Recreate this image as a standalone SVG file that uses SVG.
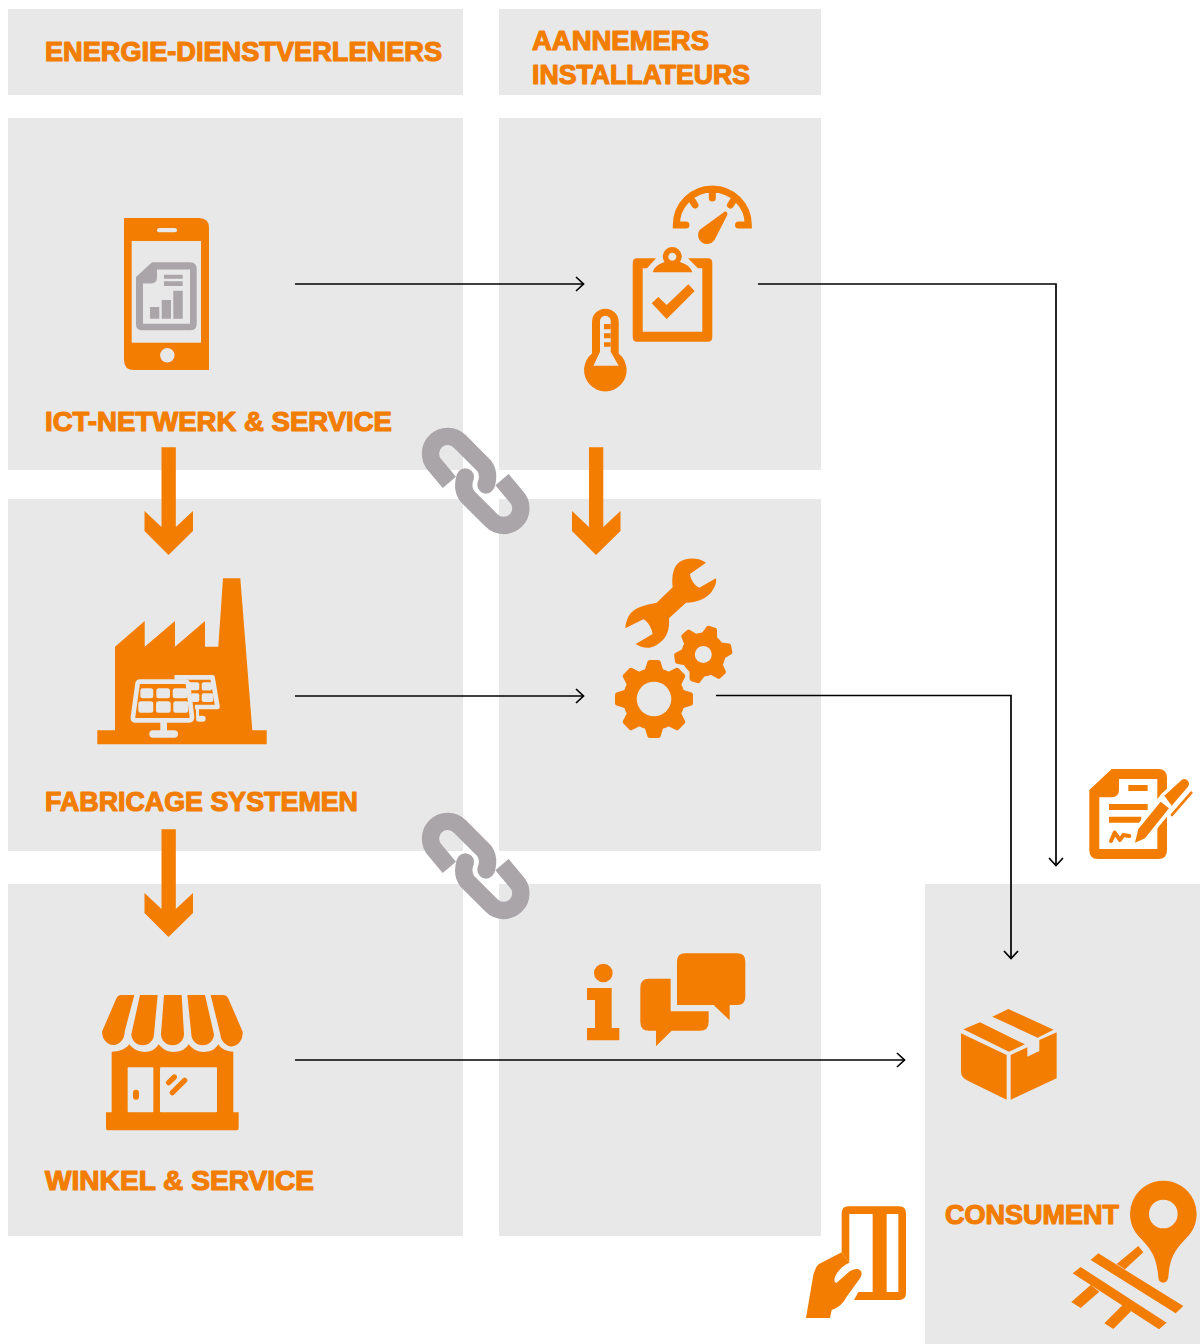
<svg xmlns="http://www.w3.org/2000/svg" xmlns:xlink="http://www.w3.org/1999/xlink" width="1200" height="1344" viewBox="0 0 1200 1344">
<style>
.p{fill:#e8e8e8}
.o{fill:#f27d00}
.g{fill:#aaa5a8}
.b{fill:#e8e8e8}
.w{fill:#fff}
.t{font-family:"Liberation Sans",Arial,sans-serif;font-weight:700;font-size:27px;fill:#f27d00;stroke:#f27d00;stroke-width:1.200px;stroke-linejoin:round}
.c{fill:none;stroke:#000;stroke-width:1.700}
.ln{fill:none;stroke:#aaa5a8;stroke-width:52}
</style>
<defs>
<marker id="a" markerUnits="userSpaceOnUse" markerWidth="12" markerHeight="18" refX="9" refY="8" orient="auto"><path d="M1 1L8.500 8L1 15" fill="none" stroke="#000" stroke-width="1.700"/></marker>
<path id="bigarrow" class="o" d="M589 447.300H603.300V527L620.500 511V531L596 555L572 531V511L589 527Z"/>
<g id="link" transform="translate(410,415) scale(.3333)">
<path class="ln" d="M118 202L76 152A50 50 0 0 1 150 80L222 152Q240 175 228 212"/>
<circle class="g" cx="228" cy="210" r="26"/>
<path class="ln" d="M276 194L318 244A50 50 0 0 1 244 316L172 244Q154 221 166 184"/>
<circle class="g" cx="166" cy="186" r="26"/>
</g>
<path id="t1" class="o" d="M-9.500-28L-6.500-37.500Q-6-39-4-39H4Q6-39 6.500-37.500L9.500-28Z"/>
<path id="t2" class="o" d="M-8-20L-5.500-27.500Q-5-29-3-29H3Q5-29 5.500-27.500L8-20Z"/>
</defs>
<g id="panels">
<rect class="p" x="8" y="9" width="455" height="86"/>
<rect class="p" x="499" y="9" width="322" height="86"/>
<rect class="p" x="8" y="118" width="455" height="352"/>
<rect class="p" x="499" y="118" width="322" height="352"/>
<rect class="p" x="8" y="499" width="455" height="352"/>
<rect class="p" x="499" y="499" width="322" height="352"/>
<rect class="p" x="8" y="884" width="455" height="352"/>
<rect class="p" x="499" y="884" width="322" height="352"/>
<rect class="p" x="925" y="884" width="275" height="460"/>
</g>
<g id="labels">
<text class="t" x="45" y="61" textLength="397" lengthAdjust="spacingAndGlyphs">ENERGIE-DIENSTVERLENERS</text>
<text class="t" x="532" y="50" textLength="177" lengthAdjust="spacingAndGlyphs">AANNEMERS</text>
<text class="t" x="532" y="84" textLength="218" lengthAdjust="spacingAndGlyphs">INSTALLATEURS</text>
<text class="t" x="45" y="431" textLength="347" lengthAdjust="spacingAndGlyphs">ICT-NETWERK &amp; SERVICE</text>
<text class="t" x="45" y="811" textLength="313" lengthAdjust="spacingAndGlyphs">FABRICAGE SYSTEMEN</text>
<text class="t" x="45" y="1190" textLength="269" lengthAdjust="spacingAndGlyphs">WINKEL &amp; SERVICE</text>
<text class="t" x="945" y="1224" textLength="174" lengthAdjust="spacingAndGlyphs">CONSUMENT</text>
</g>
<g id="connectors">
<path class="c" marker-end="url(#a)" d="M295 284H584"/>
<path class="c" marker-end="url(#a)" d="M758 284H1056V866"/>
<path class="c" marker-end="url(#a)" d="M295 696H584"/>
<path class="c" marker-end="url(#a)" d="M716 695.500H1011V959"/>
<path class="c" marker-end="url(#a)" d="M295 1060H905"/>
<use xlink:href="#bigarrow" href="#bigarrow"/>
<use xlink:href="#bigarrow" href="#bigarrow" transform="translate(-427.500,0)"/>
<use xlink:href="#bigarrow" href="#bigarrow" transform="translate(-427.500,382)"/>
</g>
<g id="link1"><use xlink:href="#link" href="#link"/></g>
<g id="link2"><use xlink:href="#link" href="#link" transform="translate(0,385)"/></g>
<g id="phone">
<path class="o" d="M124 218H199Q209 218 209 228V370H134Q124 370 124 360Z"/>
<rect class="b" x="131.700" y="241" width="69.300" height="101.700"/>
<circle class="b" cx="167.300" cy="355.300" r="7.200"/>
<rect class="b" x="157" y="228" width="20" height="4.300" rx="2.100"/>
<path class="g" d="M152 262.300H190Q196.700 262.300 196.700 269V324Q196.700 330.300 190 330.300H142Q136 330.300 136 324V277Z"/>
<path class="b" d="M157 269.500H190V323.700H143V283.500H151Q157 283.500 157 277Z"/>
<path class="g" d="M150 307H159.300V318.700H150ZM161.700 300H171V318.700H161.700ZM173.300 290.700H182.700V318.700H173.300ZM164 274.700H182.700V278.700H164ZM164 281.300H182.700V286H164Z"/>
</g>
<g id="clipboard">
<path class="o" d="M637 258.300H656L647 268.300H642.700V331.700H702.300V268.300H698L688 258.300H708Q712.300 258.300 712.300 263V337Q712.300 341.700 708 341.700H637Q632.700 341.700 632.700 337V263Q632.700 258.300 637 258.300Z"/>
<path class="o" fill-rule="evenodd" d="M652.700 272.300Q654 265.500 664.500 262A9.500 9.500 0 1 1 680 262Q691 265.500 692.300 272.300ZM672.300 252.700a4 4 0 1 0 .01 0Z"/>
<path class="o" d="M651.700 303.300L658.300 297L666.700 305L688.300 284.300L694.700 291L666.700 319Z"/>
</g>
<g id="gauge">
<path fill="none" stroke="#f27d00" stroke-width="7" stroke-linecap="round" d="M686 225H676.300A36 36 0 0 1 748.300 225H738.500M712.300 193V198M692.500 201L695 205M733 201L730.500 205"/>
<path class="o" d="M725.500 211.500Q728 212 727.300 215L714.500 240A9 9 0 0 1 699.500 230L723.500 212.500Q724.500 211.300 725.500 211.500Z"/>
</g>
<g id="thermometer" transform="translate(.7,0)">
<path class="o" d="M591.300 322A13.300 13.300 0 0 1 618 322V353.500A21.300 21.300 0 1 1 591.300 353.500Z"/>
<path class="b" d="M599.300 321A5.300 5.300 0 0 1 610 321V351.700L618 365.700H592.700L599.300 351.700Z"/>
<path class="o" d="M603.300 324H610V329.300H603.300ZM603.300 333.300H610V338.300H603.300ZM603.300 342.300H610V346.700H603.300Z"/>
</g>
<g id="factory">
<path class="o" d="M97.300 730.300H115V646.700L144.700 621V646.700L175 621V646.700L205 621V646.700H218.300L223 578.300H240.300L252.300 730.300H266.700V744.300H97.300Z"/>
<g fill="#e8e8e8">
<path fill="none" stroke="#e8e8e8" stroke-width="4.700" stroke-linejoin="round" d="M174.500 677.300H212.500L217.500 707H195"/>
<rect x="188" y="682.300" width="11.300" height="8" rx="2"/>
<rect x="201.700" y="682.300" width="10.300" height="8.300" rx="2"/>
<rect x="191" y="693.300" width="8.300" height="8.700" rx="2"/>
<rect x="201.700" y="693.300" width="11.600" height="8.700" rx="2"/>
<rect x="196" y="709" width="3" height="8"/>
<rect x="196" y="715.700" width="9.700" height="6" rx="3"/>
<path class="o" stroke="#e8e8e8" stroke-width="4.700" stroke-linejoin="round" d="M140 681.700H185Q187.500 681.700 188 684L192 717Q192 720.300 189 720.300H135Q132.500 720.300 133 717L137.500 684Q138 681.700 140 681.700Z"/>
<rect x="140.300" y="688.300" width="13" height="10" rx="2.500"/>
<rect x="156.300" y="688.300" width="13.700" height="10" rx="2.500"/>
<rect x="172.700" y="688.300" width="14.600" height="10" rx="2.500"/>
<rect x="138.300" y="701.300" width="15" height="11.400" rx="2.500"/>
<rect x="156" y="701.300" width="14.700" height="11.400" rx="2.500"/>
<rect x="173.300" y="701.300" width="15" height="11.400" rx="2.500"/>
<rect x="160.300" y="722" width="6.700" height="10"/>
<rect x="149.300" y="730.300" width="28.700" height="7.400" rx="3.700"/>
</g>
</g>
<g id="wrench" transform="translate(600,550) scale(.3333)">
<path class="o" d="M318 38C300 25 265 20 240 35C218 50 215 80 218 112L170 158C130 165 100 175 88 195C80 210 76 222 76 235L130 208C145 215 155 235 158 252L107 282C125 295 150 298 170 285C200 268 210 240 207 205L258 158C290 158 320 145 335 125C345 110 350 100 348 85L298 113C285 108 272 90 270 72Z"/>
</g>
<g id="gears">
<g transform="translate(654,699)">
<circle class="o" r="31"/>
<use xlink:href="#t1" href="#t1"/>
<use xlink:href="#t1" href="#t1" transform="rotate(45)"/>
<use xlink:href="#t1" href="#t1" transform="rotate(90)"/>
<use xlink:href="#t1" href="#t1" transform="rotate(135)"/>
<use xlink:href="#t1" href="#t1" transform="rotate(180)"/>
<use xlink:href="#t1" href="#t1" transform="rotate(225)"/>
<use xlink:href="#t1" href="#t1" transform="rotate(270)"/>
<use xlink:href="#t1" href="#t1" transform="rotate(315)"/>
<circle class="b" r="17.300"/>
</g>
<g transform="translate(703.300,654.500)">
<circle class="o" r="22"/>
<use xlink:href="#t2" href="#t2" transform="rotate(18)"/>
<use xlink:href="#t2" href="#t2" transform="rotate(78)"/>
<use xlink:href="#t2" href="#t2" transform="rotate(138)"/>
<use xlink:href="#t2" href="#t2" transform="rotate(198)"/>
<use xlink:href="#t2" href="#t2" transform="rotate(262)"/>
<use xlink:href="#t2" href="#t2" transform="rotate(320)"/>
<circle class="b" r="8.500"/>
</g>
</g>
<g id="shop" transform="translate(90,985) scale(.3333)">
<path class="o" d="M92 30H133L104 140A34 40 0 0 1 36 140L80 38Q84 30 92 30Z"/>
<path class="o" d="M150 30H203L192 148A34 33 0 0 1 124 148Z"/>
<path class="o" d="M222 30H275L282 148A34.500 33 0 0 1 213 148Z"/>
<path class="o" d="M292 30H345L372 148A34 33 0 0 1 304 148Z"/>
<path class="o" d="M362 30H400Q410 30 414 38L458 140A33.500 40 0 0 1 391 148Z"/>
<path class="o" d="M65 200C85 200 105 195 118 178C130 195 150 201 165 201C180 201 195 195 206 178C220 195 235 201 250 201C270 201 285 195 296 178C310 195 325 201 340 201C360 201 375 195 385 178C395 195 415 200 430 200V382H446V430Q446 436 440 436H54Q48 436 48 430V382H65Z"/>
<rect class="b" x="113" y="247" width="77" height="135" rx="3"/>
<rect class="b" x="210" y="247" width="171" height="135" rx="3"/>
<rect class="o" x="129" y="314" width="18" height="30" rx="9"/>
<path fill="none" stroke="#f27d00" stroke-width="16" stroke-linecap="round" d="M236 293L253 276M247 323L284 286"/>
</g>
<g id="info" transform="translate(575,940) scale(.3333)">
<circle class="o" cx="85" cy="99" r="28"/>
<path class="o" d="M36 144H110V264H133V301H36V264H60V180H36Z"/>
<path class="o" d="M330 40H487Q511 40 511 65V170Q511 195 487 195H464V241L416 195H306V65Q306 40 330 40Z"/>
<path class="o" d="M287 116V214H401V245Q401 272 375 272H290L243 319V272H222Q196 272 196 245V143Q196 116 222 116Z"/>
</g>
<g id="contract" transform="translate(1070,755) scale(.3333)">
<path class="o" d="M125 42H265Q291 42 291 68V285Q291 312 265 312H84Q58 312 58 285V105Z"/>
<path class="w" d="M147 72H262V282H88V127H125Q147 127 147 105Z"/>
<path class="o" d="M175 90H233V108H175ZM117 147H233V165H117ZM117 185H214V203H117Z"/>
<path fill="none" stroke="#f27d00" stroke-width="12" stroke-linecap="round" stroke-linejoin="round" d="M123 258L134 233L150 255L160 240L178 243"/>
<path fill="#fff" stroke="#fff" stroke-width="20" stroke-linejoin="round" d="M195 263L205 222L283 122L335 75L354 90L305 152L225 250Z"/>
<path class="o" d="M195 263L205 222L272 140L297 160L225 250Z"/>
<path class="o" d="M283 122L335 75Q345 68 354 78Q360 86 354 95L305 152Z"/>
<path fill="none" stroke="#f27d00" stroke-width="8" stroke-linecap="round" d="M306 180L364 113"/>
</g>
<g id="box" transform="translate(945,995) scale(.3333)">
<path class="o" d="M48 115L185 180V314L70 258Q48 248 48 230Z"/>
<path class="o" d="M197 180L247 157V185L283 168V135L335 112V250L197 314Z"/>
<path class="o" d="M55 103L105 82L240 148L192 170Z"/>
<path class="o" d="M142 65L190 42L326 104L278 128Z"/>
</g>
<g id="pin" transform="translate(1060,1170) scale(.3333)">
<path class="o" d="M310 32A100 100 0 0 1 385 198C350 235 330 255 325 322Q322 338 310 338Q296 338 295 322C290 255 270 235 235 198A100 100 0 0 1 310 32Z"/>
<circle class="b" cx="310" cy="132" r="43"/>
<path class="o" d="M115 250L370 408L347 430L92 270ZM62 291L320 458L297 478L38 310ZM235 228L250 247L195 298L170 282ZM92 345L118 365L62 414L34 396ZM188 405L213 424L160 477L133 460Z"/>
</g>
<g id="card" transform="translate(795,1195) scale(.3333)">
<path class="o" d="M140 172V55Q140 34 160 34H313Q333 34 333 55V295Q333 315 313 315H177L190 291H233V57H163V203Z"/>
<rect class="w" x="275" y="57" width="35" height="234"/>
<path class="o" d="M140 172L72 207Q62 215 55 240L33 369H105L110 345Q140 335 155 305L195 250Q205 235 195 225Q185 218 165 228L125 263Q115 265 120 245Q135 215 163 203Z"/>
</g>
</svg>
